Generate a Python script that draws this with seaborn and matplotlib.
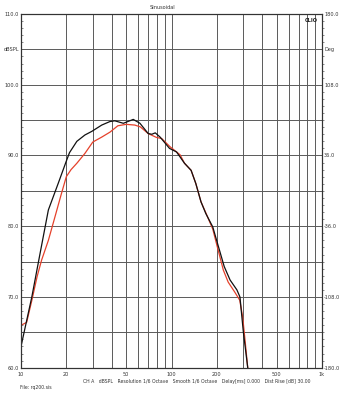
import matplotlib
matplotlib.use("Agg")
import matplotlib.pyplot as plt
import matplotlib.ticker as mticker
import seaborn as sns
import pandas as pd
import numpy as np

# ---- data ----
black_freq = [10, 11.8, 13.4, 15.2, 17.7, 20, 21, 23.5, 26.6, 29.5, 34.4, 39, 42, 47.9, 55.7,
              61.7, 70, 74, 78, 84, 97, 108, 122, 135, 145, 157, 169, 188, 202, 224, 245,
              272, 285, 300, 321, 330]
black_db = [63.0, 70.0, 76.2, 82.3, 86.1, 89.2, 90.4, 92.0, 92.9, 93.4, 94.3, 94.8, 94.9, 94.55, 95.1,
            94.55, 93.1, 93.0, 93.2, 92.6, 91.0, 90.5, 88.9, 87.9, 86.05, 83.45, 81.8, 79.9, 77.6, 74.3, 72.4,
            71.0, 70.0, 65.1, 60.0, 58.0]

red_freq = [10, 10.9, 11.8, 12.8, 13.7, 15.2, 16.8, 18.5, 20, 21.5, 23.5, 26.6, 30, 34.4, 39, 44,
            50, 57, 62, 70, 79.5, 86, 97.6, 114, 122, 135, 145, 157, 169, 188, 202, 221, 238,
            263, 284, 297, 308, 321, 330]
red_db = [66.0, 66.4, 69.5, 72.9, 75.2, 78.0, 81.3, 84.5, 87.0, 88.0, 88.9, 90.3, 91.9, 92.6, 93.3, 94.2,
          94.4, 94.3, 94.05, 93.1, 92.55, 92.4, 91.25, 90.1, 88.9, 87.9, 86.05, 83.45, 81.9, 79.6, 77.0, 73.8, 72.1,
          70.7, 69.55, 67.2, 63.9, 60.0, 58.0]

x_ticks = [10, 20, 50, 100, 200, 500, 1000]
x_ticklabels = ["10", "20", "50", "100", "200", "500", "1k"]
left_ticks = [110, 105, 100, 90, 80, 70, 60]
left_ticklabels = ["110.0", "dBSPL", "100.0", "90.0", "80.0", "70.0", "60.0"]
right_ticks = [180, 144, 108, 36, -36, -108, -180]
right_ticklabels = ["180.0", "Deg", "108.0", "36.0", "-36.0", "-108.0", "-180.0"]

df = pd.concat([
    pd.DataFrame({"freq": red_freq, "db": red_db, "curve": "red"}),
    pd.DataFrame({"freq": black_freq, "db": black_db, "curve": "black"}),
])

sns.set_style("white")
plt.rcParams['font.family'] = ['DejaVu Sans']

fig = plt.figure(figsize=(3.42, 3.96), dpi=100)
ax = fig.add_axes([21/342, 1 - 367.7/396, (322 - 21)/342, (367.7 - 14)/396])

ax.set_xscale("log")
ax.set_xlim(10, 1000)
ax.set_ylim(60, 110)

# grid
grid_x = [10, 20, 30, 40, 50, 60, 70, 80, 90, 100, 200, 300, 400, 500, 600, 700, 800, 900, 1000]
for gx in grid_x:
    ax.axvline(gx, color="#5a5a5a", lw=0.7, zorder=0)
for gy in range(60, 111, 5):
    ax.axhline(gy, color="#5a5a5a", lw=0.7, zorder=0)

sns.lineplot(data=df, x="freq", y="db", hue="curve", hue_order=["red", "black"],
             palette={"red": "#e5412b", "black": "#111111"}, ax=ax, legend=False,
             sort=False, estimator=None, linewidth=0.9)
ax.set_xlabel("")
ax.set_ylabel("")

ax.set_xticks(x_ticks)
ax.set_xticklabels(x_ticklabels)
ax.xaxis.set_minor_locator(mticker.NullLocator())
ax.set_yticks(left_ticks)
ax.set_yticklabels(left_ticklabels)
ax.yaxis.set_minor_locator(mticker.MultipleLocator(1))
ax.tick_params(axis="x", which="both", length=0, labelsize=3.6, pad=3, colors="#333333")
ax.tick_params(axis="y", which="major", length=0, labelsize=3.6, pad=1.5, colors="#333333")
ax.tick_params(axis="y", which="minor", direction="in", length=1.5, width=0.4, color="#333333")

for s in ax.spines.values():
    s.set_color("#333333")
    s.set_linewidth(0.8)

ax2 = ax.twinx()
ax2.set_ylim(-180, 180)
ax2.set_yticks(right_ticks)
ax2.set_yticklabels(right_ticklabels)
ax2.yaxis.set_minor_locator(mticker.MultipleLocator(7.2))
ax2.tick_params(axis="y", which="major", length=0, labelsize=3.6, pad=1.5, colors="#333333")
ax2.tick_params(axis="y", which="minor", direction="out", length=1.5, width=0.4, color="#333333")
for s in ax2.spines.values():
    s.set_color("#333333")
    s.set_linewidth(0.8)

ax.text(0.985, 0.988, "CLIO", transform=ax.transAxes, ha="right", va="top",
        fontsize=3.6, fontweight="bold", color="#222222")
fig.text(163/342, 1 - 7.5/396, "Sinusoidal", ha="center", va="center", fontsize=3.6, color="#333333")
fig.text(83/342, 1 - 382/396,
         "CH A   dBSPL   Resolution 1/6 Octave   Smooth 1/6 Octave   Delay[ms] 0.000   Dist Rise [dB] 30.00",
         ha="left", va="center", fontsize=3.3, color="#333333")
fig.text(20/342, 1 - 388/396, "File: rq200.sis", ha="left", va="center", fontsize=3.3, color="#333333")

fig.savefig("out.png", dpi=100, facecolor="white")
